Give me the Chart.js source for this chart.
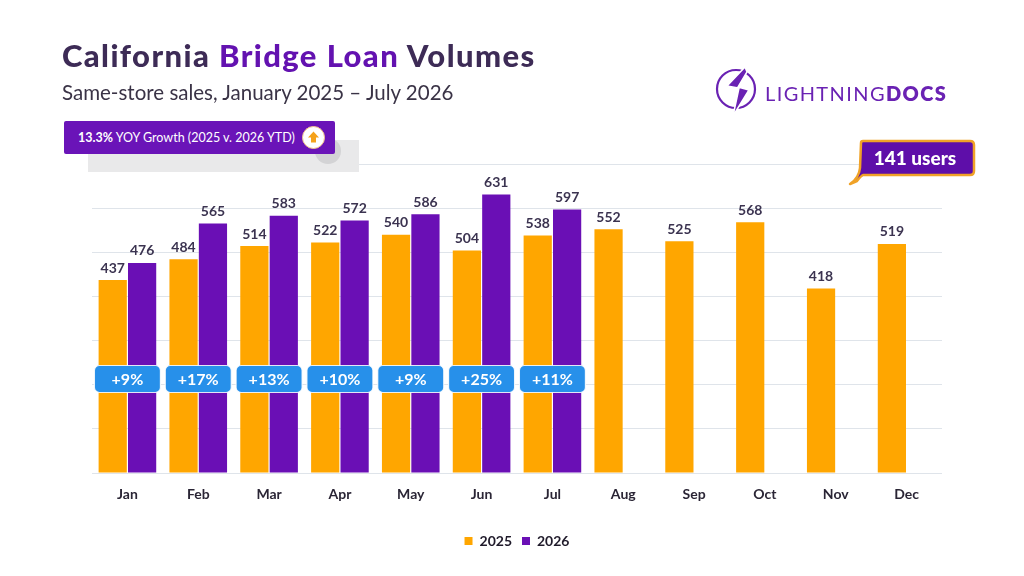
<!DOCTYPE html>
<html>
<head>
<meta charset="utf-8">
<script src="https://cdn.jsdelivr.net/npm/chart.js@4.4.1/dist/chart.umd.min.js"></script>
<style>
  body { margin: 0; background: #fff; font-family: Lato, sans-serif; }
  #wrap { position: relative; width: 1024px; height: 576px; overflow: hidden; }
  #myChart { position: absolute; left: 0; top: 0; }
  .title { position: absolute; left: 62px; top: 36px; font-size: 31px; font-weight: 900; color: #3d2b56; white-space: nowrap; letter-spacing: 1.4px; }
  .title span { color: #6312b0; }
  .subtitle { position: absolute; left: 62px; top: 80px; font-size: 20.5px; color: #3a3346; white-space: nowrap; }
  .shadow { position: absolute; left: 88px; top: 140px; width: 271px; height: 32px; background: #e9e9ea; }
  .shadowDot { position: absolute; left: 315px; top: 138px; width: 26px; height: 26px; border-radius: 50%; background: #d3d3d5; }
  .growth { position: absolute; left: 64px; top: 121px; width: 271px; height: 33px; background: #6a14b8; border-radius: 2px; color: #fff; font-size: 12.5px; line-height: 33px; box-sizing: border-box; padding-left: 14px; white-space: nowrap; }
  .growth b { font-weight: 700; }
  .arrow { position: absolute; left: 302px; top: 126px; width: 21px; height: 21px; border-radius: 50%; background: #fff; border: 1px solid #f4c68a; }
  .logo { position: absolute; left: 712px; top: 64px; }
  .logoText { position: absolute; left: 765px; top: 81px; font-size: 20px; color: #6a22b3; letter-spacing: 1.4px; white-space: nowrap; }
  .logoText b { font-weight: 800; }
  .users { position: absolute; left: 845px; top: 138px; }
</style>
</head>
<body>
<div id="wrap">
  <canvas id="myChart" width="1024" height="576"></canvas>
  <div class="title">California <span>Bridge Loan</span> Volumes</div>
  <div class="subtitle">Same-store sales, January 2025 – July 2026</div>
  <div class="shadow"></div>
  <div class="shadowDot"></div>
  <div class="growth"><b>13.3%</b> YOY Growth (2025 v. 2026 YTD)</div>
  <div class="arrow">
    <svg width="21" height="21" viewBox="0 0 21 21"><path d="M10.5 4.5 L16 10.5 L13 10.5 L13 15.5 L8 15.5 L8 10.5 L5 10.5 Z" fill="#f5a21b"/></svg>
  </div>
  <svg class="logo" width="52" height="56" viewBox="0 0 52 56">
    <circle cx="24" cy="25" r="19" fill="none" stroke="#6a22b3" stroke-width="2.2"/>
    <path d="M33 3 L15 22 L27 24 L21 52 L37 26 L26 23 L35 8 Z" fill="#6a22b3" stroke="#fff" stroke-width="1.5"/>
  </svg>
  <div class="logoText">LIGHTNING<b>DOCS</b></div>
  <svg class="users" width="135" height="50" viewBox="0 0 135 50">
    <path d="M16 5 Q16 3 18 3 L125 3 Q129 3 129 7 L129 33 Q129 37 125 37 L18 37 Q16 38 12 43 L5 46 Q14 40 15 30 Z" fill="#5e0ea9" stroke="#f0a227" stroke-width="2.5" stroke-linejoin="round"/>
    <text x="70" y="27" text-anchor="middle" font-family="Lato, sans-serif" font-weight="900" font-size="19" fill="#fff">141 users</text>
  </svg>
</div>
<script>
var months = ['Jan', 'Feb', 'Mar', 'Apr', 'May', 'Jun', 'Jul', 'Aug', 'Sep', 'Oct', 'Nov', 'Dec'];
var sales2025 = [437, 484, 514, 522, 540, 504, 538, 552, 525, 568, 418, 519];
var sales2026 = [476, 565, 583, 572, 586, 631, 597, null, null, null, null, null];
var growthLabels = ['+9%', '+17%', '+13%', '+10%', '+9%', '+25%', '+11%'];

var orange = '#ffa600';
var purple = '#6a0fb5';

// value labels above each bar and the blue growth badges
var barLabels = {
    id: 'barLabels',
    afterDatasetsDraw: function (chart) {
        var ctx = chart.ctx;
        ctx.save();
        ctx.font = 'bold 14px Lato, sans-serif';
        ctx.fillStyle = '#3b3350';
        ctx.textAlign = 'center';
        ctx.textBaseline = 'bottom';
        chart.data.datasets.forEach(function (ds, d) {
            chart.getDatasetMeta(d).data.forEach(function (bar, i) {
                if (ds.data[i] == null) return;
                ctx.fillText(ds.data[i], bar.x, bar.y - 5);
            });
        });

        var xScale = chart.scales.x;
        var yScale = chart.scales.y;
        var y = yScale.getPixelForValue(213);
        for (var i = 0; i < growthLabels.length; i++) {
            var x = xScale.getPixelForValue(i);
            var w = 66, h = 27;
            ctx.beginPath();
            ctx.roundRect(x - w / 2, y - h / 2, w, h, 5);
            ctx.fillStyle = '#2790ea';
            ctx.fill();
            ctx.strokeStyle = 'rgba(255,255,255,0.85)';
            ctx.lineWidth = 1.2;
            ctx.stroke();
            ctx.fillStyle = '#fff';
            ctx.font = 'bold 16px Lato, sans-serif';
            ctx.textBaseline = 'middle';
            ctx.fillText(growthLabels[i], x, y + 1);
        }
        ctx.restore();
    }
};

var ctx = document.getElementById('myChart').getContext('2d');
var myChart = new Chart(ctx, {
    type: 'bar',
    data: {
        labels: months,
        datasets: [{
            label: '2025',
            data: sales2025,
            backgroundColor: orange,
            barPercentage: 0.96,
            categoryPercentage: 0.83
        }, {
            label: '2026',
            data: sales2026,
            backgroundColor: purple,
            barPercentage: 0.96,
            categoryPercentage: 0.83
        }]
    },
    options: {
        responsive: false,
        animation: false,
        layout: {
            padding: { left: 92, right: 82, top: 164, bottom: 18 }
        },
        plugins: {
            legend: {
                position: 'bottom',
                labels: {
                    boxWidth: 8,
                    boxHeight: 8,
                    padding: 10,
                    color: '#1f1a2a',
                    font: { family: 'Lato, sans-serif', size: 14, weight: 'bold' }
                }
            },
            tooltip: { enabled: false }
        },
        scales: {
            x: {
                grid: { display: false, drawTicks: false },
                border: { display: false },
                ticks: {
                    padding: 13,
                    color: '#2a2535',
                    font: { family: 'Lato, sans-serif', size: 14, weight: 'bold' }
                },
                afterFit: function (scale) { scale.height = 51; }
            },
            y: {
                min: 0,
                max: 700,
                ticks: { display: false, stepSize: 100 },
                border: { display: false },
                grid: { color: '#dfe4ea', drawTicks: false }
            }
        }
    },
    plugins: [barLabels]
});
</script>
</body>
</html>
